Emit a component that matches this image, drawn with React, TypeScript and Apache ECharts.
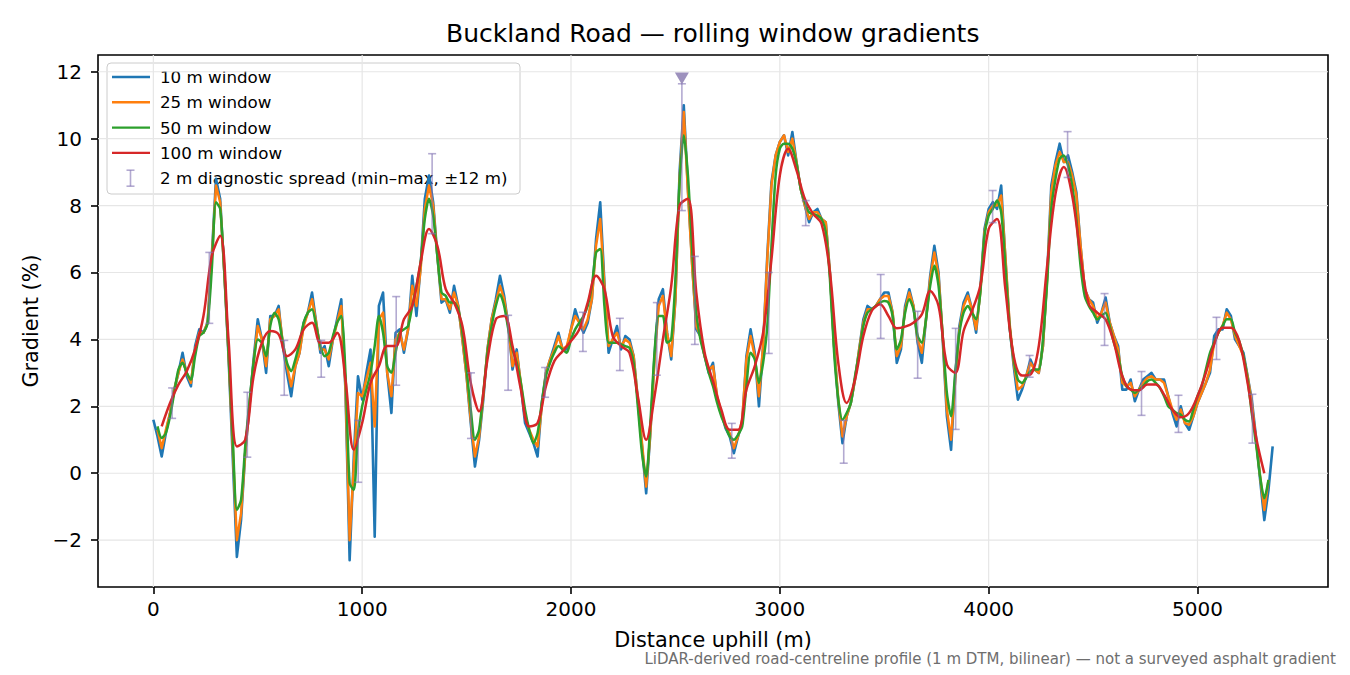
import React, { useRef, useEffect } from 'react';
import * as echarts from 'echarts';

// 10 m and 25/50 m windows every 20 m, 100 m window every 40 m.
const STEP_10 = 20;
const START_10 = 0;
const WINDOW_10M = [
  1.6, 1.1, 0.5, 1.2, 1.8, 2.5, 3.0, 3.6, 2.9, 2.6,
  3.8, 4.3, 4.2, 4.5, 6.5, 8.8, 8.2, 6.0, 3.5, 0.5,
  -2.5, -1.4, 0.6, 2.0, 3.4, 4.6, 4.0, 3.0, 4.7, 4.7,
  5.0, 3.8, 3.0, 2.3, 3.2, 3.6, 4.5, 4.8, 5.4, 4.5,
  3.6, 3.8, 3.2, 4.0, 4.6, 5.2, 2.5, -2.6, 0.5, 2.9,
  2.2, 3.0, 3.7, -1.9, 5.0, 5.4, 3.0, 1.8, 4.2, 4.3,
  3.6, 4.3, 5.9, 4.7, 6.2, 8.2, 8.9, 8.1, 6.5, 5.1,
  5.2, 4.8, 5.6, 5.0, 4.0, 2.9, 1.5, 0.2, 1.0, 2.2,
  3.7, 4.6, 5.2, 5.9, 5.3, 4.4, 3.1, 3.7, 2.6, 1.5,
  1.2, 0.9, 0.5, 2.1, 3.0, 3.4, 3.8, 4.2, 3.7, 3.7,
  4.3, 4.9, 4.5, 4.2, 4.5, 5.2, 7.0, 8.1, 5.7, 3.6,
  4.0, 4.4, 3.7, 4.1, 4.0, 3.5, 2.2, 0.8, -0.6, 1.2,
  3.5, 5.2, 5.5, 4.2, 3.4, 5.2, 9.0, 11.0, 8.5, 6.3,
  4.3, 4.1, 3.5, 3.0, 3.3, 2.2, 1.8, 1.35, 1.1, 0.6,
  1.1, 1.5, 3.5, 4.3, 3.6, 2.0, 3.8, 6.5, 8.7, 9.5,
  9.9, 10.1, 9.5, 10.2, 9.3, 8.5, 8.0, 7.5, 7.8, 7.9,
  7.6, 7.5, 6.0, 3.8, 2.1, 0.9, 1.7, 2.1, 2.8, 3.7,
  4.6, 5.0, 4.9, 5.0, 5.2, 5.4, 5.4, 4.8, 3.3, 3.7,
  5.0, 5.5, 5.0, 3.9, 3.3, 4.6, 5.9, 6.8, 6.0, 4.0,
  1.7, 0.7, 2.9, 4.4, 5.1, 5.4, 4.9, 4.2, 5.5, 7.3,
  7.9, 8.1, 7.9, 8.6, 6.4, 4.4, 3.2, 2.2, 2.5, 2.9,
  3.4, 3.1, 3.0, 3.8, 5.9, 8.6, 9.3, 9.85, 9.3, 9.5,
  9.0, 8.4, 6.8, 5.5, 5.2, 5.1, 4.5, 4.8, 5.25, 4.5,
  4.1, 3.8, 2.5, 2.5, 2.8, 2.15, 2.5, 2.8, 2.9, 3.0,
  2.8, 2.8, 2.8, 2.3, 1.8, 1.4, 2.0, 1.5, 1.3, 1.7,
  2.1, 2.4, 2.7, 3.0, 4.1, 4.3, 4.3, 4.9, 4.7, 4.0,
  3.8, 3.6, 2.9, 2.2, 1.1, -0.2, -1.4, -0.5, 0.8,
];

const STEP_25 = 20;
const START_25 = 20;
const WINDOW_25M = [
  1.3, 0.75, 1.3, 1.8, 2.5, 3.0, 3.4, 3.0, 2.7,
  3.7, 4.2, 4.2, 4.5, 6.4, 8.6, 8.1, 6.0, 3.6, 0.8,
  -2.0, -1.2, 0.6, 2.0, 3.3, 4.4, 4.0, 3.2, 4.6, 4.7,
  4.9, 3.9, 3.2, 2.6, 3.2, 3.6, 4.4, 4.8, 5.2, 4.5,
  3.7, 3.7, 3.4, 4.0, 4.5, 5.0, 2.6, -2.0, 0.2, 2.4,
  2.3, 2.8, 3.3, 1.4, 4.6, 4.8, 3.0, 2.3, 4.0, 4.2,
  3.7, 4.3, 5.6, 5.0, 6.1, 7.9, 8.6, 8.0, 6.5, 5.2,
  5.2, 4.9, 5.4, 5.0, 4.0, 2.9, 1.6, 0.5, 1.1, 2.3,
  3.7, 4.6, 5.1, 5.6, 5.2, 4.4, 3.2, 3.6, 2.7, 1.7,
  1.3, 1.0, 0.8, 2.0, 3.0, 3.4, 3.7, 4.1, 3.7, 3.8,
  4.3, 4.7, 4.5, 4.3, 4.6, 5.2, 6.8, 7.6, 5.6, 3.8,
  4.0, 4.2, 3.8, 4.0, 3.9, 3.5, 2.2, 0.9, -0.4, 1.2,
  3.4, 5.0, 5.3, 4.2, 3.5, 5.2, 8.8, 10.8, 8.4, 6.2,
  4.4, 4.1, 3.5, 3.1, 3.2, 2.3, 1.8, 1.4, 1.2, 0.75,
  1.1, 1.6, 3.4, 4.1, 3.5, 2.3, 3.8, 6.4, 8.6, 9.5,
  9.9, 10.1, 9.6, 10.0, 9.3, 8.5, 8.0, 7.6, 7.8, 7.8,
  7.6, 7.5, 6.0, 3.8, 2.2, 1.1, 1.7, 2.1, 2.8, 3.7,
  4.5, 4.9, 4.9, 5.0, 5.2, 5.3, 5.3, 4.8, 3.5, 3.8,
  4.9, 5.4, 5.0, 4.0, 3.6, 4.6, 5.8, 6.6, 5.9, 4.1,
  1.9, 1.0, 2.8, 4.3, 5.0, 5.3, 4.9, 4.3, 5.4, 7.2,
  7.8, 8.0, 8.0, 8.3, 6.5, 4.5, 3.3, 2.5, 2.6, 2.9,
  3.3, 3.1, 3.0, 3.8, 5.8, 8.4, 9.2, 9.6, 9.3, 9.3,
  8.9, 8.3, 6.8, 5.5, 5.2, 5.0, 4.6, 4.8, 5.1, 4.5,
  4.1, 3.7, 2.7, 2.6, 2.7, 2.3, 2.5, 2.7, 2.85, 2.9,
  2.8, 2.8, 2.7, 2.3, 1.9, 1.6, 1.9, 1.5, 1.45, 1.7,
  2.1, 2.4, 2.7, 3.1, 3.9, 4.2, 4.4, 4.8, 4.6, 4.1,
  3.8, 3.5, 2.9, 2.1, 1.0, -0.1, -1.1, -0.2,
];

const STEP_50 = 20;
const START_50 = 20;
const WINDOW_50M = [
  1.4, 1.05, 1.2, 1.7, 2.4, 3.1, 3.3, 3.0, 2.8,
  3.5, 4.1, 4.2, 4.5, 6.1, 8.1, 7.9, 6.0, 3.6, 1.1,
  -1.1, -0.8, 0.8, 2.1, 3.3, 4.0, 3.9, 3.5, 4.4, 4.8,
  4.6, 3.9, 3.3, 3.05, 3.4, 3.9, 4.5, 4.8, 4.9, 4.4,
  3.8, 3.5, 3.6, 4.1, 4.5, 4.7, 3.0, -0.3, -0.5, 1.2,
  2.0, 2.5, 3.0, 3.8, 4.7, 4.2, 3.2, 3.0, 3.6, 4.2,
  4.3, 4.4, 5.0, 5.6, 6.3, 7.6, 8.2, 7.7, 6.5, 5.4,
  5.3, 5.1, 5.1, 4.9, 4.2, 3.1, 1.9, 1.0, 1.3, 2.4,
  3.6, 4.4, 5.0, 5.35, 5.0, 4.3, 3.7, 3.3, 2.7, 1.9,
  1.3, 0.9, 1.2, 2.1, 2.9, 3.3, 3.6, 3.8, 3.7, 3.6,
  4.0, 4.3, 4.5, 4.7, 5.0, 5.6, 6.6, 6.7, 5.0, 3.9,
  3.9, 3.9, 3.85, 3.8, 3.75, 3.3, 2.0, 0.6, -0.1, 1.5,
  3.6, 4.7, 4.7, 3.9, 4.0, 5.8, 8.7, 10.1, 8.9, 6.7,
  4.8, 4.0, 3.5, 3.0, 2.6, 2.1, 1.7, 1.4, 1.1, 1.0,
  1.15, 1.4, 2.6, 3.6, 3.4, 2.7, 3.3, 4.4, 6.8, 8.9,
  9.7, 9.85, 9.85, 9.7, 9.25, 8.5, 8.1, 7.8, 7.75, 7.7,
  7.6, 7.2, 5.8, 3.6, 2.2, 1.6, 1.8, 2.1, 2.9, 3.6,
  4.4, 4.8, 4.9, 5.0, 5.1, 5.15, 5.1, 4.7, 3.7, 4.0,
  4.8, 5.2, 4.9, 4.1, 3.9, 4.6, 5.6, 6.2, 5.6, 4.1,
  2.4, 1.7, 3.0, 4.2, 4.8, 5.0, 4.8, 4.6, 5.4, 7.1,
  7.7, 7.9, 8.15, 7.8, 6.2, 4.4, 3.4, 2.8, 2.7, 2.85,
  3.05, 3.1, 3.1, 4.0, 5.7, 7.9, 8.8, 9.4, 9.5, 9.2,
  8.6, 7.6, 6.2, 5.3, 5.0, 4.8, 4.6, 4.7, 4.8, 4.4,
  3.9, 3.5, 2.9, 2.6, 2.5, 2.4, 2.5, 2.6, 2.75, 2.8,
  2.7, 2.55, 2.3, 2.0, 1.9, 1.8, 1.75, 1.6, 1.55, 1.9,
  2.3, 2.6, 3.1, 3.6, 3.9, 4.2, 4.4, 4.6, 4.6, 4.2,
  3.95, 3.5, 2.8, 1.8, 0.9, -0.1, -0.75, -0.2,
];

const STEP_100 = 40;
const START_100 = 40;
const WINDOW_100M = [
  1.4, 2.1, 2.65, 3.05, 3.7, 4.7, 6.5, 7.1, 4.0, 0.8,
  1.0, 2.9, 3.9, 4.25, 4.15, 3.5, 3.7, 4.3, 4.5, 3.9,
  3.9, 4.2, 2.8, 0.7, 1.5, 2.7, 3.2, 3.8, 3.8, 4.6,
  5.0, 6.3, 7.3, 6.8, 5.5, 5.1, 4.4, 2.7, 1.85, 3.4,
  4.6, 4.7, 3.8, 2.5, 1.4, 1.5, 2.6, 3.35, 3.65, 3.95,
  4.3, 5.1, 5.9, 5.5, 4.1, 3.8, 3.6, 2.3, 1.0, 2.3,
  4.0, 5.6, 8.0, 8.2, 5.4, 3.6, 2.75, 1.9, 1.3, 1.3,
  2.5, 3.2, 4.2, 6.4, 8.9, 9.7, 9.05, 8.2, 7.75, 7.45,
  6.0, 3.3, 2.1, 2.8, 4.1, 4.85, 5.05, 4.7, 4.33, 4.38,
  4.5, 4.75, 5.45, 5.0, 3.25, 3.0, 4.25, 4.85, 5.6, 7.3,
  7.6, 5.5, 3.5, 2.92, 2.95, 3.8, 6.2, 8.35, 9.15, 8.3,
  6.5, 5.05, 4.8, 4.6, 3.9, 2.9, 2.5, 2.48, 2.65, 2.65,
  2.35, 1.9, 1.67, 1.8, 2.3, 3.0, 3.85, 4.35, 4.35, 3.95,
  2.7, 1.1, 0.0,
];

// 2 m diagnostic spread: [distance, min, max]
const SPREAD_2M = [
  [90, 1.64, 2.55], [268, 4.48, 6.6], [450, 0.48, 2.42], [627, 2.33, 3.97],
  [804, 2.87, 3.97], [981, -0.27, 1.58], [1163, 2.63, 5.28], [1335, 7.16, 9.55],
  [1521, 1.04, 3.0], [1699, 2.48, 4.72], [1876, 2.27, 3.16], [2057, 3.64, 4.81],
  [2234, 3.07, 4.63], [2411, 2.93, 5.1], [2531, 7.85, 11.64], [2593, 3.85, 6.48],
  [2770, 0.45, 1.49], [2947, 3.58, 6.0], [3124, 7.4, 8.15], [3306, 0.3, 1.58],
  [3483, 4.03, 5.94], [3660, 2.84, 4.84], [3842, 1.31, 4.33], [4019, 7.49, 8.45],
  [4196, 2.87, 3.52], [4378, 8.84, 10.21], [4555, 3.82, 5.37], [4732, 1.73, 3.04],
  [4909, 1.22, 2.33], [5091, 3.4, 4.66], [5263, 0.9, 2.36],
];

// steepest point marker
const PEAK_MARK = [[2531, 11.8]];

const X_TICKS = [0, 1000, 2000, 3000, 4000, 5000];
const Y_TICKS = [-2, 0, 2, 4, 6, 8, 10, 12];

const SERIES_NAMES = ['10 m window', '25 m window', '50 m window', '100 m window'];
const SERIES_COLORS = ['#1f77b4', '#ff7f0e', '#2ca02c', '#d62728'];
const SPREAD_LABEL = '2 m diagnostic spread (min\u2013max, \u00b112 m)';
const SPREAD_COLOR = 'rgba(129,114,179,0.6)';

const FONT = '"DejaVu Sans", Verdana, sans-serif';

function toPairs(values: number[], start: number, step: number): number[][] {
  return values.map((v, i) => [start + i * step, v]);
}

function minusFormat(v: number): string {
  return v < 0 ? '\u2212' + Math.abs(v) : String(v);
}

const App: React.FC = () => {
  const chartRef = useRef<HTMLDivElement>(null);

  useEffect(() => {
    document.body.style.margin = '0';
    if (!chartRef.current) return;
    const chart = echarts.init(chartRef.current, undefined, { renderer: 'svg' });

    const lineData = [
      toPairs(WINDOW_10M, START_10, STEP_10),
      toPairs(WINDOW_25M, START_25, STEP_25),
      toPairs(WINDOW_50M, START_50, STEP_50),
      toPairs(WINDOW_100M, START_100, STEP_100),
    ];
    const widths = [2.6, 2.5, 2.5, 2.5];
    const smooth = [false, false, 0.25, 0.35];

    const lineSeries: any[] = lineData.map((data, i) => ({
      name: SERIES_NAMES[i],
      type: 'line',
      data,
      showSymbol: false,
      symbol: 'none',
      smooth: smooth[i],
      z: 2,
      lineStyle: { color: SERIES_COLORS[i], width: widths[i], join: 'round' },
      itemStyle: { color: SERIES_COLORS[i] },
    }));

    const gridX = {
      type: 'custom',
      z: 1,
      silent: true,
      data: X_TICKS.map((v) => [v, 0]),
      renderItem: (params: any, api: any) => {
        const cs = params.coordSys;
        const px = api.coord([api.value(0), 0])[0];
        return {
          type: 'line',
          shape: { x1: px, y1: cs.y, x2: px, y2: cs.y + cs.height },
          style: { stroke: '#e6e6e6', lineWidth: 1.2 },
        };
      },
    };
    const gridY = {
      type: 'custom',
      z: 1,
      silent: true,
      data: Y_TICKS.map((v) => [0, v]),
      renderItem: (params: any, api: any) => {
        const cs = params.coordSys;
        const py = api.coord([0, api.value(1)])[1];
        return {
          type: 'line',
          shape: { x1: cs.x, y1: py, x2: cs.x + cs.width, y2: py },
          style: { stroke: '#e6e6e6', lineWidth: 1.2 },
        };
      },
    };

    const spreadSeries = {
      name: SPREAD_LABEL,
      type: 'custom',
      z: 3,
      silent: true,
      data: SPREAD_2M,
      encode: { x: 0, y: [1, 2] },
      renderItem: (_params: any, api: any) => {
        const x = api.value(0);
        const lo = api.coord([x, api.value(1)]);
        const hi = api.coord([x, api.value(2)]);
        const cap = 4;
        const style = { stroke: SPREAD_COLOR, lineWidth: 1.6 };
        return {
          type: 'group',
          children: [
            { type: 'line', shape: { x1: lo[0], y1: lo[1], x2: hi[0], y2: hi[1] }, style },
            { type: 'line', shape: { x1: lo[0] - cap, y1: lo[1], x2: lo[0] + cap, y2: lo[1] }, style },
            { type: 'line', shape: { x1: hi[0] - cap, y1: hi[1], x2: hi[0] + cap, y2: hi[1] }, style },
          ],
        };
      },
    };

    const peakSeries = {
      type: 'scatter',
      z: 4,
      silent: true,
      data: PEAK_MARK,
      symbol: 'triangle',
      symbolRotate: 180,
      symbolSize: [14, 12],
      itemStyle: { color: '#8576ad' },
    };

    // legend drawn by hand to match the matplotlib box
    const rowY = [77, 102.3, 127.6, 152.9, 178.2];
    const legendChildren: any[] = [
      {
        type: 'rect',
        shape: { x: 107, y: 63, width: 413, height: 131, r: 4 },
        style: { fill: 'rgba(255,255,255,0.8)', stroke: '#cccccc', lineWidth: 1 },
      },
    ];
    SERIES_NAMES.forEach((name, i) => {
      legendChildren.push({
        type: 'line',
        shape: { x1: 112, y1: rowY[i], x2: 150, y2: rowY[i] },
        style: { stroke: SERIES_COLORS[i], lineWidth: 2.4 },
      });
      legendChildren.push({
        type: 'text',
        x: 160,
        y: rowY[i],
        style: { text: name, fontSize: 16.7, fontFamily: FONT, fill: '#000', verticalAlign: 'middle', align: 'left' },
      });
    });
    const sy = rowY[4];
    const sStyle = { stroke: SPREAD_COLOR, lineWidth: 1.6 };
    legendChildren.push(
      { type: 'line', shape: { x1: 130.5, y1: sy - 8, x2: 130.5, y2: sy + 8 }, style: sStyle },
      { type: 'line', shape: { x1: 126.5, y1: sy - 8, x2: 134.5, y2: sy - 8 }, style: sStyle },
      { type: 'line', shape: { x1: 126.5, y1: sy + 8, x2: 134.5, y2: sy + 8 }, style: sStyle },
      {
        type: 'text',
        x: 160,
        y: sy,
        style: { text: SPREAD_LABEL, fontSize: 16.7, fontFamily: FONT, fill: '#000', verticalAlign: 'middle', align: 'left' },
      },
    );

    const option: any = {
      animation: false,
      backgroundColor: '#ffffff',
      textStyle: { fontFamily: FONT },
      title: {
        text: 'Buckland Road \u2014 rolling window gradients',
        left: 441,
        top: 16,
        textStyle: { fontFamily: FONT, fontSize: 25, fontWeight: 'normal', color: '#000' },
      },
      grid: {
        left: 98,
        right: 22,
        top: 55,
        bottom: 88,
        show: true,
        borderColor: '#000',
        borderWidth: 1.6,
        backgroundColor: 'transparent',
      },
      xAxis: {
        type: 'value',
        min: -265,
        max: 5625,
        name: 'Distance uphill (m)',
        nameLocation: 'middle',
        nameGap: 42,
        nameTextStyle: { fontFamily: FONT, fontSize: 20.8, color: '#000' },
        axisLine: { show: false, onZero: false },
        axisTick: {
          show: true,
          customValues: X_TICKS,
          length: 7,
          lineStyle: { color: '#000', width: 1.6 },
        },
        axisLabel: {
          customValues: X_TICKS,
          margin: 12,
          fontFamily: FONT,
          fontSize: 20,
          color: '#000',
          formatter: (v: number) => minusFormat(v),
        },
        splitLine: { show: false },
      },
      yAxis: {
        type: 'value',
        min: -3.4,
        max: 12.5,
        name: 'Gradient (%)',
        nameLocation: 'middle',
        nameRotate: 90,
        nameGap: 52,
        nameTextStyle: { fontFamily: FONT, fontSize: 20.8, color: '#000' },
        axisLine: { show: false, onZero: false },
        axisTick: {
          show: true,
          customValues: Y_TICKS,
          length: 7,
          lineStyle: { color: '#000', width: 1.6 },
        },
        axisLabel: {
          customValues: Y_TICKS,
          margin: 16,
          fontFamily: FONT,
          fontSize: 20,
          color: '#000',
          formatter: (v: number) => minusFormat(v),
        },
        splitLine: { show: false },
      },
      graphic: [
        { type: 'group', z: 100, children: legendChildren },
        {
          type: 'text',
          z: 100,
          x: 1336,
          y: 659,
          style: {
            text: 'LiDAR-derived road-centreline profile (1 m DTM, bilinear) \u2014 not a surveyed asphalt gradient',
            fontSize: 15,
            fontFamily: FONT,
            fill: '#6e6e6e',
            align: 'right',
            verticalAlign: 'middle',
          },
        },
      ],
      series: [gridX, gridY, ...lineSeries, spreadSeries, peakSeries],
    };

    chart.setOption(option);

    return () => {
      chart.dispose();
    };
  }, []);

  return <div ref={chartRef} style={{ width: 1350, height: 675 }} />;
};

export default App;
